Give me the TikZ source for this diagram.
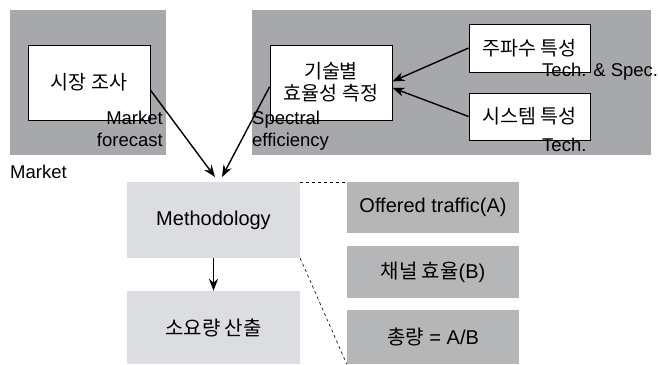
\documentclass[tikz,border=0pt]{standalone}
\usepackage{fontspec}
\setmainfont{Liberation Sans}
\newfontfamily\kr{Noto Sans CJK KR}
\usetikzlibrary{arrows.meta}
\definecolor{panelgray}{HTML}{A7A8AB}
\definecolor{lightbox}{HTML}{DCDDE0}
\definecolor{darkbox}{HTML}{B5B6B8}
\tikzset{
  panel/.style={fill=panelgray, inner sep=0pt},
  whitebox/.style={draw, fill=white, line width=0.8pt, inner sep=0pt, align=center,
    font=\kr\fontsize{19.5}{22}\selectfont},
  methbox/.style={fill=lightbox, inner sep=0pt, minimum width=173pt,
    font=\fontsize{20}{22}\selectfont},
  termbox/.style={fill=darkbox, inner sep=0pt, minimum width=172pt,
    font=\fontsize{20}{22}\selectfont},
  txt/.style={inner sep=0pt, font=\fontsize{18.5}{22}\selectfont},
  arr/.style={-{Stealth[length=12pt,width=9pt]}, line width=1.4pt},
}
\begin{document}
\begin{tikzpicture}[x=1pt,y=-1pt]
\useasboundingbox (0,0) rectangle (658,364);
\node[panel, minimum width=156pt, minimum height=145pt] (mktpanel) at (88,82.5) {};
\node[panel, minimum width=399pt, minimum height=145pt] (techpanel) at (451.5,82.5) {};
\node[whitebox, minimum width=122pt, minimum height=75pt] (survey) at (89,82.5) {시장 조사};
\node[whitebox, minimum width=122pt, minimum height=75pt] (eff) at (331,82.5) {기술별\\효율성 측정};
\node[whitebox, minimum width=121pt, minimum height=48pt] (freq) at (529.5,48) {주파수 특성};
\node[whitebox, minimum width=121pt, minimum height=47pt] (sys) at (529.5,116.5) {시스템 특성};
\node[txt, align=right, anchor=east] (fcst) at (163,129) {Market\\forecast};
\node[txt, align=left, anchor=west] (spef) at (252,131) {Spectral\\efficiency};
\node[txt, anchor=west] (mkt) at (10,172) {Market};
\node[txt, anchor=west] (techspec) at (542,72) {Tech. \& Spec.};
\node[txt, anchor=west] (tech) at (542,145) {Tech.};
\node[methbox, minimum height=76pt] (meth) at (213.5,220) {Methodology};
\node[methbox, minimum height=73pt] (calc) at (213.5,327.5) {\kr 소요량 산출};
\node[termbox, minimum height=51pt] (offered) at (433,207.5) {Offered traffic(A)};
\node[termbox, minimum height=52pt] (chan) at (433,272) {{\kr 채널 효율}(B)};
\node[termbox, minimum height=54pt] (total) at (433,337) {{\kr 총량} = A/B};
\coordinate (mktin) at (215,177);
\coordinate (effin) at (222,177);
\draw[arr] (survey.-7) -- (mktin);
\draw[arr] (eff.184) -- (effin);
\draw[arr] (freq.west) -- (eff.1);
\draw[arr] (sys.west) -- (eff.-5);
\draw[arr] (meth.south) -- (calc.north);
\draw[dashed, line width=0.6pt] (meth.north east) -- (offered.north west);
\draw[dashed, line width=0.6pt] (meth.south east) -- (total.south west);
\end{tikzpicture}
\end{document}
